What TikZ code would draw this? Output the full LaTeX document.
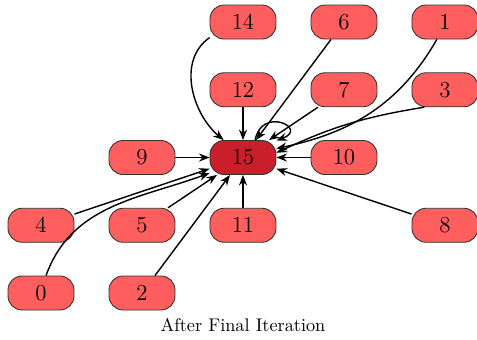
\documentclass[tikz,border=0pt]{standalone}
\usepackage{mathpazo}
\usetikzlibrary{arrows.meta}
\definecolor{nodered}{RGB}{255,94,94}
\definecolor{rootred}{RGB}{201,31,42}
\begin{document}
\begin{tikzpicture}[x=2.02cm,y=1.355cm,
    box/.style={draw=black!80,line width=0.5pt,fill=nodered,rounded corners=0.28cm,
      minimum width=1.32cm,minimum height=0.68cm,inner sep=0pt,font=\fontsize{13}{15}\selectfont},
    arr/.style={-{Stealth[length=6pt,width=4.6pt]},line width=0.8pt}]
  \useasboundingbox (-0.406,0.325) rectangle (4.317,-4.679);
  \foreach \x/\y/\i in {2/0/14, 3/0/6, 4/0/1, 2/1/12, 3/1/7, 4/1/3, 1/2/9, 3/2/10,
                        0/3/4, 1/3/5, 2/3/11, 4/3/8, 0/4/0, 1/4/2}{
    \node[box](N\i) at (\x,-\y){\i};
  }
  \node[box,fill=rootred](N15) at (2,-2){15};
  % straight edges into the root
  \foreach \a in {12,6,7,9,10,4,5,11,2,8}{
    \draw[arr](N\a)--(N15);
  }
  % curved ones
  \draw[arr](N14.-155) to[out=215,in=140] (N15.138);
  \draw[arr](N1.-115) to[out=240,in=12] (N15.15);
  \draw[arr](N3.-140) to[bend right=8] (N15.8);
  \draw[arr](N0.74) to[out=70,in=200] (N15.-155);
  \draw[arr](N15.55) .. controls +(80:0.7cm) and +(20:0.7cm) .. (N15.27);
  \node(cap) at (2,-4.472){\fontsize{10.4}{12}\selectfont After Final Iteration};
\end{tikzpicture}
\end{document}
